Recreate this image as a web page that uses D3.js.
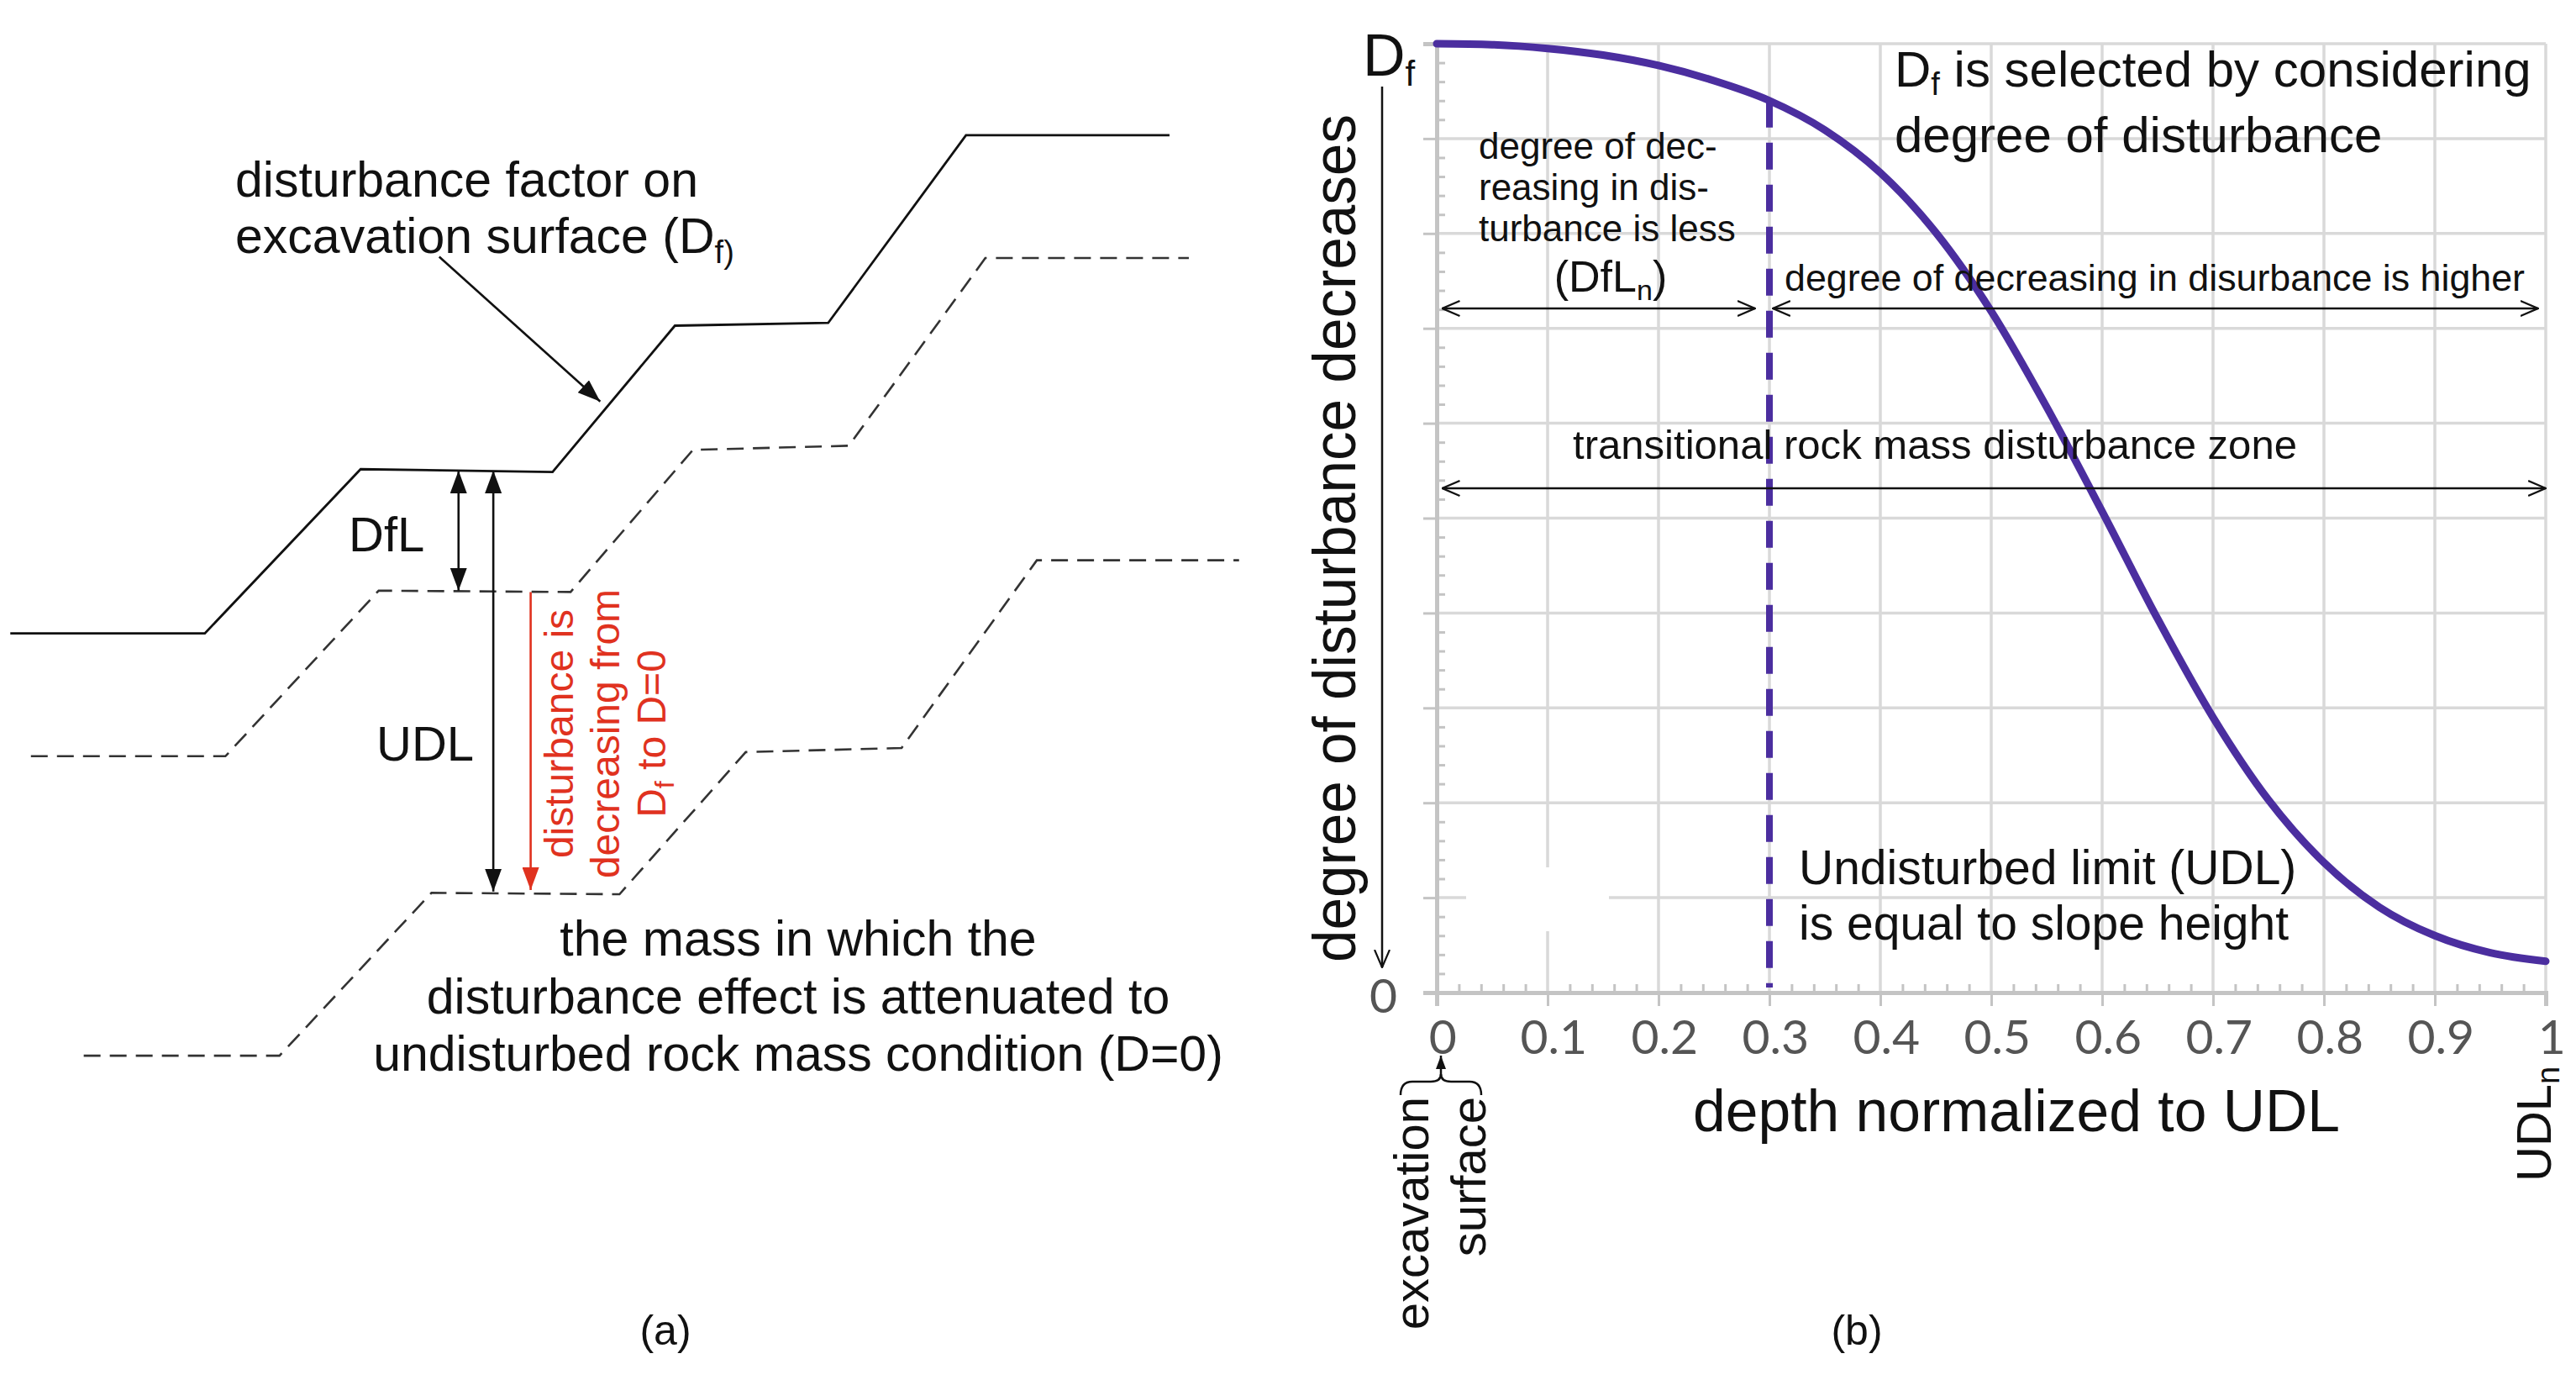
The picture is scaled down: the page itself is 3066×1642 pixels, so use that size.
<!DOCTYPE html>
<html>
<head>
<meta charset="utf-8">
<script src="https://cdn.jsdelivr.net/npm/d3@7"></script>
<style>
  html, body { margin: 0; padding: 0; background: #fff; overflow: hidden; }
  svg { display: block; }
  text { font-family: "Liberation Sans", Arial, sans-serif; fill: #111; }
  .tick-label { font-family: Lato, "Open Sans", sans-serif; fill: #555; }
</style>
</head>
<body>
<div id="figure"></div>
<script>
// --- DONNÉES ---
// (b) courbe de perturbation en fonction de la profondeur normalisée
const depthNorm = [0, 0.05, 0.1, 0.15, 0.2, 0.25, 0.3, 0.35, 0.4, 0.45, 0.5, 0.55, 0.6, 0.65, 0.7, 0.75, 0.8, 0.85, 0.9, 0.95, 1];
const disturbanceLevel = [1, 0.999, 0.995, 0.988, 0.977, 0.961, 0.94, 0.909, 0.864, 0.801, 0.718, 0.617, 0.507, 0.394, 0.29, 0.203, 0.137, 0.09, 0.06, 0.042, 0.033];
const dflLimitDepth = 0.3;
const xTickValues = [0, 0.1, 0.2, 0.3, 0.4, 0.5, 0.6, 0.7, 0.8, 0.9, 1];
const xTickLabels = ["0", "0.1", "0.2", "0.3", "0.4", "0.5", "0.6", "0.7", "0.8", "0.9", "1"];
const yTickValues = [0, 0.1, 0.2, 0.3, 0.4, 0.5, 0.6, 0.7, 0.8, 0.9, 1];

// (a) profils de talus, en % de la largeur / hauteur du panneau
const surfaceLine = [[0.8, 45.9], [15.9, 45.9], [28.0, 34.0], [42.9, 34.2], [52.4, 23.6], [64.3, 23.4], [75.0, 9.8], [90.8, 9.8]];
const dflLimitLine = [[2.4, 54.8], [17.5, 54.8], [29.4, 42.8], [44.3, 42.9], [53.8, 32.6], [65.9, 32.3], [76.5, 18.7], [92.3, 18.7]];
const udlLimitLine = [[6.5, 76.5], [21.7, 76.5], [33.5, 64.7], [48.1, 64.8], [57.9, 54.5], [70.0, 54.2], [80.5, 40.6], [96.2, 40.6]];
const dimensionArrows = [
  { name: "DfL", x: 35.6, from: 34.1, to: 42.8 },
  { name: "UDL", x: 38.3, from: 34.1, to: 64.6 }
];
const decayArrow = { x: 41.2, from: 42.9, to: 64.5 };
const pointerArrow = [[34.1, 18.6], [46.6, 29.1]];

function drawFigure() {
  const W = 3066, H = 1642;
  const svg = d3.select("#figure").append("svg").attr("width", W).attr("height", H);
  svg.append("rect").attr("width", W).attr("height", H).attr("fill", "#fff");

  // --- marqueurs de flèches ---
  const defs = svg.append("defs");
  function filledHead(id, color, len, wid) {
    defs.append("marker").attr("id", id).attr("viewBox", "0 0 10 10")
      .attr("refX", 10).attr("refY", 5).attr("markerUnits", "userSpaceOnUse")
      .attr("markerWidth", len).attr("markerHeight", wid)
      .attr("preserveAspectRatio", "none").attr("orient", "auto-start-reverse")
      .append("path").attr("d", "M0,0L10,5L0,10z").attr("fill", color);
  }
  function openHead(id, len, wid) {
    defs.append("marker").attr("id", id).attr("viewBox", "0 0 10 10")
      .attr("refX", 9.5).attr("refY", 5).attr("markerUnits", "userSpaceOnUse")
      .attr("markerWidth", len).attr("markerHeight", wid)
      .attr("preserveAspectRatio", "none").attr("orient", "auto-start-reverse")
      .append("path").attr("d", "M0,0.5L9.5,5L0,9.5").attr("fill", "none")
      .attr("stroke", "#111").attr("stroke-width", 1.1);
  }
  filledHead("headBlack", "#111", 27, 20);
  filledHead("headRed", "#e0321f", 27, 20);
  filledHead("headSmall", "#111", 16, 12);
  openHead("headOpen", 22, 20);

  // ============ PANNEAU (a) ============
  const ga = svg.append("g");
  const xa = d3.scaleLinear().domain([0, 100]).range([0, 1533]);
  const ya = d3.scaleLinear().domain([0, 100]).range([0, 1642]);
  const profile = d3.line().x(d => xa(d[0])).y(d => ya(d[1]));

  ga.append("path").attr("d", profile(surfaceLine)).attr("fill", "none")
    .attr("stroke", "#111").attr("stroke-width", 2.8);
  [dflLimitLine, udlLimitLine].forEach(pts => {
    ga.append("path").attr("d", profile(pts)).attr("fill", "none")
      .attr("stroke", "#333").attr("stroke-width", 2.6).attr("stroke-dasharray", "20,11");
  });

  ga.append("line")
    .attr("x1", xa(pointerArrow[0][0])).attr("y1", ya(pointerArrow[0][1]))
    .attr("x2", xa(pointerArrow[1][0])).attr("y2", ya(pointerArrow[1][1]))
    .attr("stroke", "#111").attr("stroke-width", 2.6).attr("marker-end", "url(#headBlack)");

  ga.selectAll(".dim").data(dimensionArrows).join("line").attr("class", "dim")
    .attr("x1", d => xa(d.x)).attr("x2", d => xa(d.x))
    .attr("y1", d => ya(d.from)).attr("y2", d => ya(d.to))
    .attr("stroke", "#111").attr("stroke-width", 2.6)
    .attr("marker-start", "url(#headBlack)").attr("marker-end", "url(#headBlack)");

  ga.append("line").attr("x1", xa(decayArrow.x)).attr("x2", xa(decayArrow.x))
    .attr("y1", ya(decayArrow.from)).attr("y2", ya(decayArrow.to))
    .attr("stroke", "#e0321f").attr("stroke-width", 2.6).attr("marker-end", "url(#headRed)");

  // textes du panneau (a)
  ga.append("text").attr("x", 280).attr("y", 234).style("font-size", "59px").text("disturbance factor on");
  const t2 = ga.append("text").attr("x", 280).attr("y", 301).style("font-size", "59px");
  t2.append("tspan").text("excavation surface (D");
  t2.append("tspan").attr("dy", 12).style("font-size", "38px").text("f)");

  ga.append("text").attr("x", 415).attr("y", 656).style("font-size", "58px").text("DfL");
  ga.append("text").attr("x", 448).attr("y", 905).style("font-size", "58px").text("UDL");

  const redLines = ["disturbance is", "decreasing from", null];
  const redX = [682, 737, 792];
  redLines.forEach((s, i) => {
    const t = ga.append("text")
      .attr("transform", `translate(${redX[i]},873) rotate(-90)`)
      .attr("text-anchor", "middle").style("font-size", "48px").style("fill", "#e0321f");
    if (s) t.text(s);
    else {
      t.append("tspan").text("D");
      t.append("tspan").attr("dy", 10).style("font-size", "32px").text("f");
      t.append("tspan").attr("dy", -10).text(" to D=0");
    }
  });

  ["the mass in which the", "disturbance effect is attenuated to", "undisturbed rock mass condition (D=0)"]
    .forEach((s, i) => {
      ga.append("text").attr("x", 950).attr("y", 1137 + i * 68.5)
        .attr("text-anchor", "middle").style("font-size", "59px").text(s);
    });
  ga.append("text").attr("x", 792).attr("y", 1600).attr("text-anchor", "middle")
    .style("font-size", "50px").text("(a)");

  // ============ PANNEAU (b) ============
  const x0 = 1710, x1 = 3030, yBottom = 1181, yTop = 52;
  const x = d3.scaleLinear().domain([0, 1]).range([x0, x1]);
  const y = d3.scaleLinear().domain([0, 1]).range([yBottom, yTop]);
  const gb = svg.append("g");
  const gridColor = "#d9d9d9", axisColor = "#c4c4c4";

  // grille
  gb.append("g").selectAll("line").data(xTickValues).join("line")
    .attr("x1", d => x(d)).attr("x2", d => x(d)).attr("y1", yTop).attr("y2", yBottom)
    .attr("stroke", gridColor).attr("stroke-width", 3.5);
  gb.append("g").selectAll("line").data(yTickValues).join("line")
    .attr("x1", x0).attr("x2", x1).attr("y1", d => y(d)).attr("y2", d => y(d))
    .attr("stroke", gridColor).attr("stroke-width", 3.5);

  // tache blanche de l'original
  gb.append("rect").attr("x", 1745).attr("y", 1032).attr("width", 170).attr("height", 76).attr("fill", "#fff");

  const minorTicks = d3.range(0, 1.0001, 0.02).filter(v => Math.abs(v * 10 - Math.round(v * 10)) > 1e-6);

  // axe X
  const xAxis = gb.append("g").attr("transform", `translate(0,${yBottom})`)
    .call(d3.axisBottom(x).tickValues(xTickValues).tickSize(16).tickPadding(17)
      .tickFormat((d, i) => xTickLabels[i]));
  gb.append("g").attr("transform", `translate(0,${yBottom})`)
    .call(d3.axisBottom(x).tickValues(minorTicks).tickSize(-10).tickFormat(""))
    .call(g => g.select(".domain").remove());
  // axe Y
  gb.append("g").attr("transform", `translate(${x0},0)`)
    .call(d3.axisLeft(y).tickValues(yTickValues).tickSize(16).tickFormat(""));
  gb.append("g").attr("transform", `translate(${x0},0)`)
    .call(d3.axisLeft(y).tickValues(minorTicks).tickSize(-10).tickFormat(""))
    .call(g => g.select(".domain").remove());

  gb.selectAll(".domain").attr("stroke", axisColor).attr("stroke-width", 5);
  gb.selectAll(".tick line").attr("stroke", axisColor).attr("stroke-width", 3);
  xAxis.selectAll(".tick text").attr("class", "tick-label").style("font-size", "57px")
    .attr("dx", "0.12em");

  // courbe et limite DfL
  const curve = d3.line().x((d, i) => x(depthNorm[i])).y(d => y(d)).curve(d3.curveMonotoneX);
  gb.append("line")
    .attr("x1", x(dflLimitDepth)).attr("x2", x(dflLimitDepth))
    .attr("y1", y(disturbanceLevel[depthNorm.indexOf(dflLimitDepth)])).attr("y2", yBottom - 6)
    .attr("stroke", "#4b2e9f").attr("stroke-width", 8).attr("stroke-dasharray", "32,18");
  gb.append("path").attr("d", curve(disturbanceLevel)).attr("fill", "none")
    .attr("stroke", "#4b2e9f").attr("stroke-width", 9).attr("stroke-linecap", "round");

  // flèches horizontales
  const hArrows = [
    { from: 0.005, to: 0.287, yy: 367 },
    { from: 0.303, to: 0.993, yy: 367 },
    { from: 0.005, to: 1.0, yy: 581 }
  ];
  gb.selectAll(".harrow").data(hArrows).join("line").attr("class", "harrow")
    .attr("x1", d => x(d.from)).attr("x2", d => x(d.to)).attr("y1", d => d.yy).attr("y2", d => d.yy)
    .attr("stroke", "#111").attr("stroke-width", 2.5)
    .attr("marker-start", "url(#headOpen)").attr("marker-end", "url(#headOpen)");

  // textes du panneau (b)
  const df = gb.append("text").attr("x", 1622).attr("y", 90).style("font-size", "70px");
  df.append("tspan").text("D");
  df.append("tspan").attr("dy", 12).style("font-size", "42px").text("f");
  gb.append("text").attr("x", 1663).attr("y", 1205).attr("text-anchor", "end")
    .attr("class", "tick-label").style("font-size", "57px").text("0");

  gb.append("text").attr("transform", "translate(1613,1145) rotate(-90)")
    .attr("textLength", 1009).attr("lengthAdjust", "spacingAndGlyphs")
    .style("font-size", "72px").text("degree of disturbance decreases");
  gb.append("line").attr("x1", 1645).attr("x2", 1645).attr("y1", 103).attr("y2", 1151)
    .attr("stroke", "#111").attr("stroke-width", 2.5).attr("marker-end", "url(#headOpen)");

  const sel = gb.append("text").attr("x", 2255).attr("y", 103).style("font-size", "60px");
  sel.append("tspan").text("D");
  sel.append("tspan").attr("dy", 10).style("font-size", "38px").text("f");
  sel.append("tspan").attr("dy", -10).text(" is selected by considering");
  gb.append("text").attr("x", 2255).attr("y", 181).style("font-size", "60px").text("degree of disturbance");

  ["degree of dec-", "reasing in dis-", "turbance is less"].forEach((s, i) => {
    gb.append("text").attr("x", 1760).attr("y", 189 + i * 49).style("font-size", "44px").text(s);
  });
  const dfl = gb.append("text").attr("x", 1917).attr("y", 347).attr("text-anchor", "middle").style("font-size", "52px");
  dfl.append("tspan").text("(DfL");
  dfl.append("tspan").attr("dy", 10).style("font-size", "34px").text("n");
  dfl.append("tspan").attr("dy", -10).text(")");

  gb.append("text").attr("x", 2124).attr("y", 346).attr("textLength", 881).attr("lengthAdjust", "spacingAndGlyphs")
    .style("font-size", "45px").text("degree of decreasing in disurbance is higher");
  gb.append("text").attr("x", 1872).attr("y", 546).attr("textLength", 862).attr("lengthAdjust", "spacingAndGlyphs")
    .style("font-size", "48px").text("transitional rock mass disturbance zone");

  gb.append("text").attr("x", 2141).attr("y", 1052).style("font-size", "57px").text("Undisturbed limit (UDL)");
  gb.append("text").attr("x", 2141).attr("y", 1118).style("font-size", "57px").text("is equal to slope height");

  gb.append("text").attr("x", (2015 + 2785) / 2).attr("y", 1346).attr("text-anchor", "middle")
    .attr("textLength", 770).attr("lengthAdjust", "spacingAndGlyphs")
    .style("font-size", "70px").text("depth normalized to UDL");

  const udl = gb.append("text").attr("transform", "translate(3036,1406) rotate(-90)").style("font-size", "58px");
  udl.append("tspan").text("UDL");
  udl.append("tspan").attr("dy", 10).style("font-size", "38px").text("n");

  gb.append("text").attr("transform", "translate(1700,1305) rotate(-90)").attr("text-anchor", "end")
    .style("font-size", "58px").text("excavation");
  gb.append("text").attr("transform", "translate(1768,1305) rotate(-90)").attr("text-anchor", "end")
    .style("font-size", "58px").text("surface");

  // accolade "excavation surface" pointant vers 0
  const bx = x(0) + 5;
  gb.append("path")
    .attr("d", `M${bx - 48},1303 Q${bx - 48},1287 ${bx - 34},1287 L${bx - 12},1287 Q${bx},1287 ${bx},1278 Q${bx},1287 ${bx + 12},1287 L${bx + 34},1287 Q${bx + 48},1287 ${bx + 48},1303`)
    .attr("fill", "none").attr("stroke", "#111").attr("stroke-width", 2.5);
  gb.append("line").attr("x1", bx).attr("x2", bx).attr("y1", 1280).attr("y2", 1256)
    .attr("stroke", "#111").attr("stroke-width", 2.5).attr("marker-end", "url(#headSmall)");

  gb.append("text").attr("x", 2210).attr("y", 1600).attr("text-anchor", "middle")
    .style("font-size", "50px").text("(b)");
}

drawFigure();
</script>
</body>
</html>
